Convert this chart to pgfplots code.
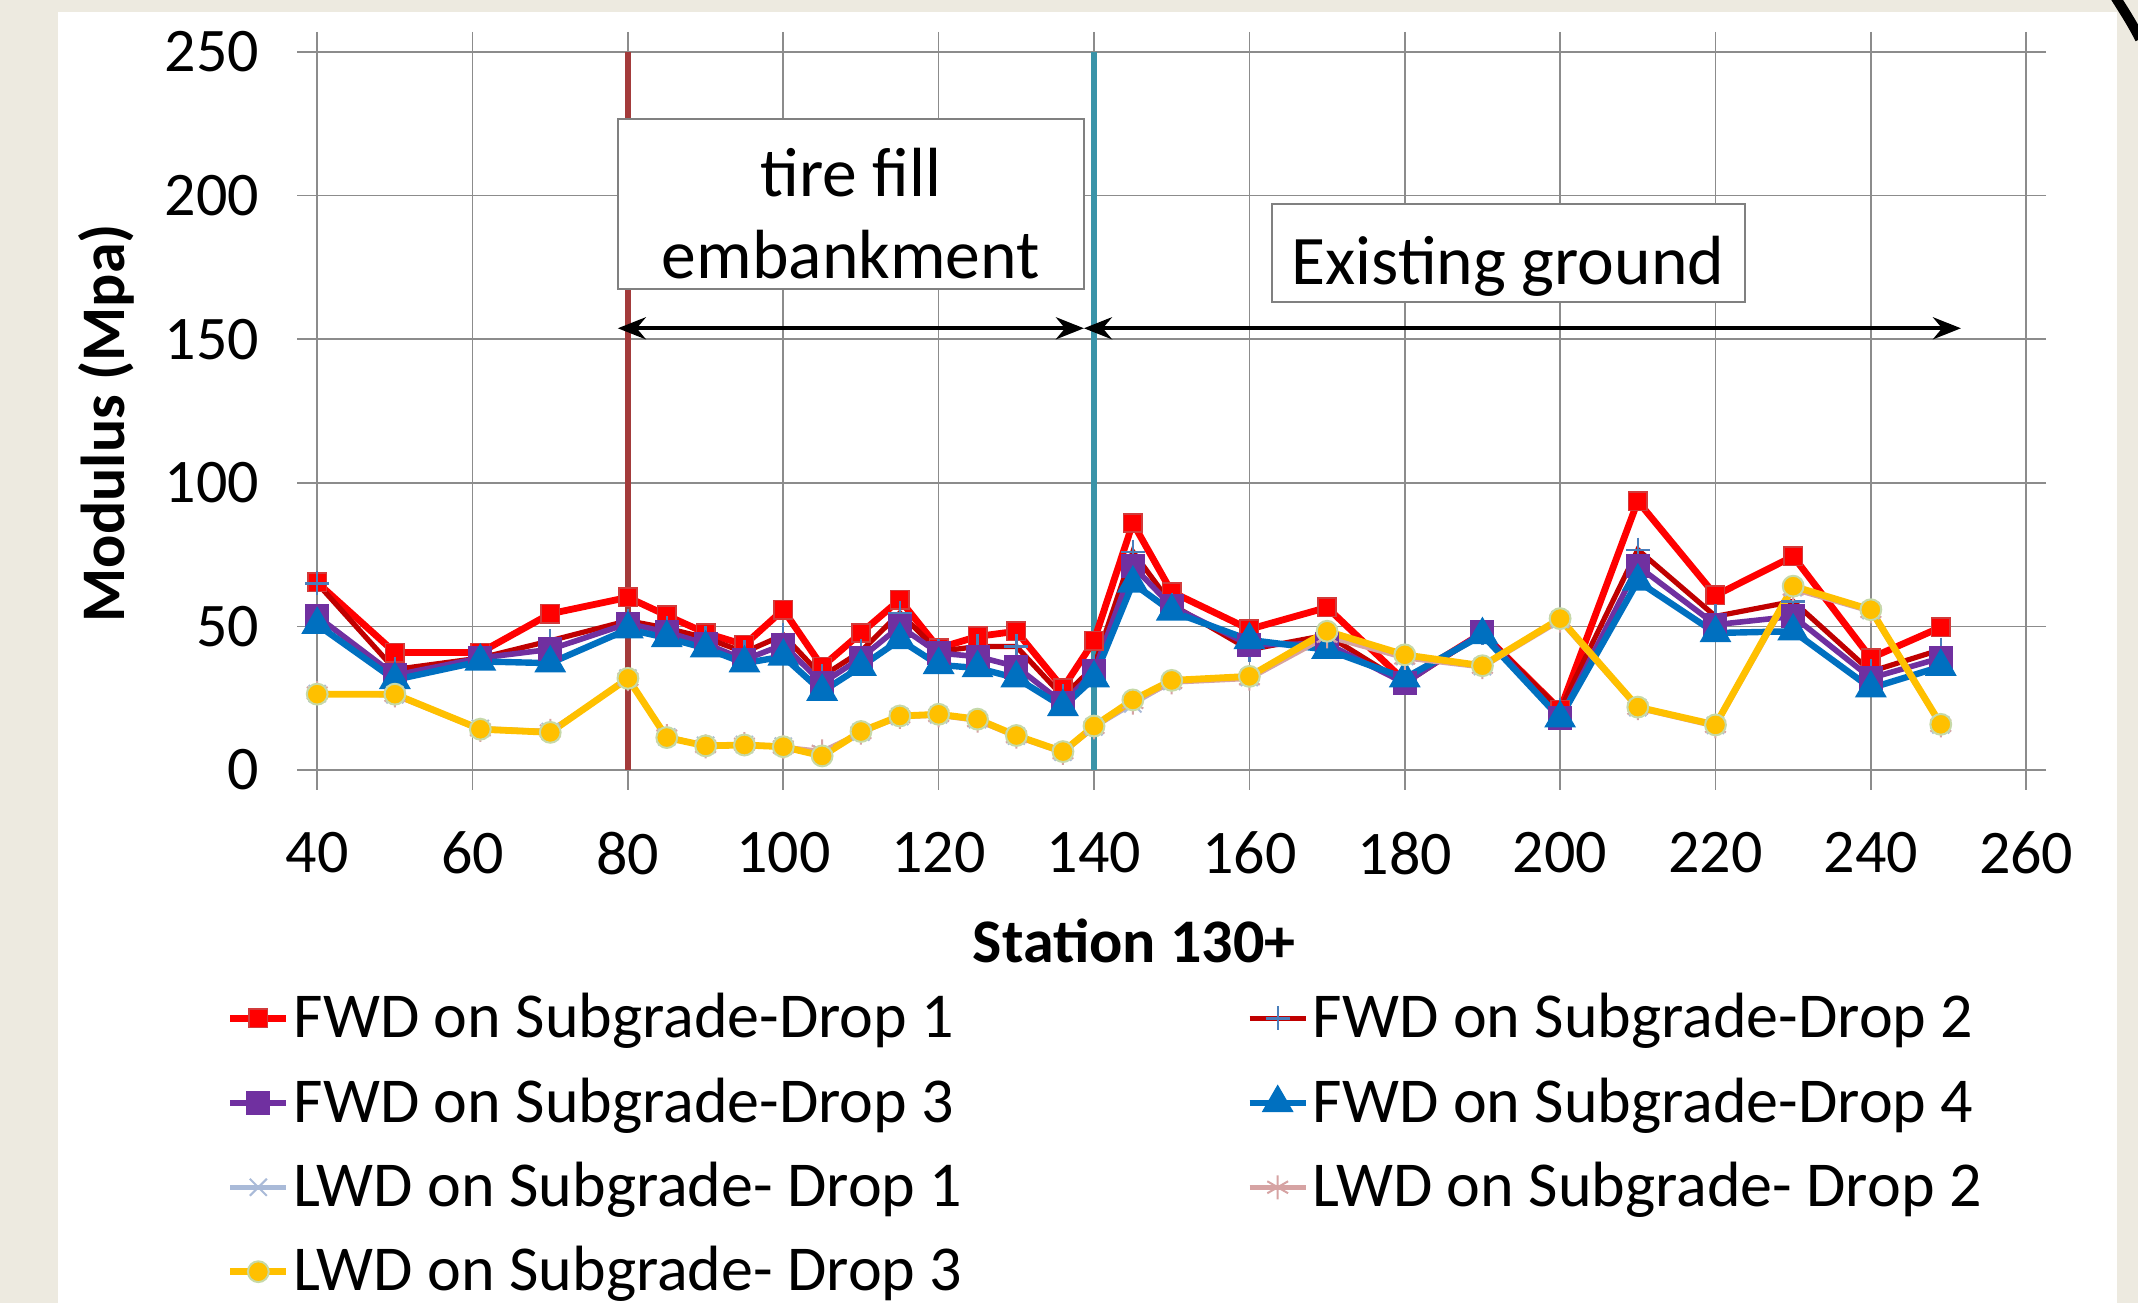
\documentclass[border=0pt]{standalone}
\usepackage{fontspec}
\setmainfont{Carlito}
\usepackage{pgfplots}
\pgfplotsset{compat=1.18}
\usetikzlibrary{arrows.meta}

\definecolor{bgbeige}{HTML}{EDEAE0}
\definecolor{gridgray}{HTML}{8C8C8C}
\definecolor{dropA}{HTML}{FF0000}
\definecolor{dropAedge}{HTML}{D23B3B}
\definecolor{dropB}{HTML}{C00000}
\definecolor{plusblue}{HTML}{4A7EBB}
\definecolor{dropC}{HTML}{7030A0}
\definecolor{dropD}{HTML}{0070C0}
\definecolor{lwdA}{HTML}{A9BAD8}
\definecolor{lwdB}{HTML}{D6A3A3}
\definecolor{lwdC}{HTML}{FFC000}
\definecolor{lwdCedge}{HTML}{C6D9A8}
\definecolor{fillline}{HTML}{A33B3B}
\definecolor{groundline}{HTML}{3A93A8}

\newcommand{\chartfont}{\fontsize{15.5}{18}\selectfont}
\newcommand{\legendfont}{\fontsize{16}{18}\selectfont}
\newcommand{\notefont}{\fontsize{17.4}{20.5}\selectfont}

\begin{document}
\begin{tikzpicture}
\useasboundingbox (0,0) rectangle (534.5pt,325.75pt);
\fill[bgbeige] (0,0) rectangle (534.5pt,325.75pt);
\fill[white] (14.5pt,0) rectangle (529.25pt,322.75pt);
\draw[line width=2.5pt] (528.5pt,327pt) .. controls (531pt,323pt) and (533pt,320pt) .. (535pt,316pt);

\begin{axis}[
    at={(79.3pt,133.25pt)}, anchor=south west,
    scale only axis,
    width=427.25pt, height=179.5pt,
    xmin=40, xmax=260,
    ymin=0, ymax=250,
    xtick={40,60,...,260},
    ytick={0,50,...,250},
    grid=major,
    grid style={gridgray, line width=0.4pt},
    axis line style={gridgray, line width=0.5pt},
    tick style={gridgray, line width=0.4pt},
    tick align=outside,
    major tick length=5pt,
    tick label style={font=\chartfont},
    /pgf/number format/assume math mode=true,
    yticklabel style={xshift=-6pt},
    xticklabel style={yshift=-7pt},
    xlabel={\bfseries Station 130+},
    ylabel={\bfseries Modulus (Mpa)},
    label style={font=\chartfont},
    xlabel style={at={(axis description cs:0.478,-0.238)}, anchor=center},
    ylabel style={at={(axis description cs:-0.1235,0.483)}, anchor=center},
    legend columns=2,
    legend cell align=left,
    legend image code/.code={\draw[mark repeat=2,mark phase=2,#1] plot coordinates {(0pt,0pt)(7pt,0pt)(14pt,0pt)};},
    legend style={
        at={(axis description cs:-0.0603,-0.293)}, anchor=north west,
        draw=none, fill=none, font=\legendfont,
        nodes={inner sep=1pt}, row sep=6.5pt,
        /tikz/every odd column/.style={column sep=0pt},
        /tikz/every even column/.style={column sep=70pt},
    },
]

% section boundaries
\addplot[forget plot, fillline, line width=1.6pt] coordinates {(80,0)(80,250)};
\addplot[forget plot, groundline, line width=1.6pt] coordinates {(140,0)(140,250)};

\addplot[dropA, line width=1.7pt, mark=square*, mark size=2.3pt,
    mark options={fill=dropA, draw=dropAedge, line width=0.4pt}]
coordinates {
(40,65.3)(50,40.9)(61,40.9)(70,54.4)(80,60.1)(85,53.8)(90,47.7)(95,43.6)
(100,55.8)(105,36)(110,47.7)(115,59.3)(120,42.4)(125,46.5)(130,48.3)(136,28.5)
(140,45)(145,86)(150,62)(160,49)(170,56.6)(180,31)(190,47.7)(200,21)
(210,93.6)(220,60.8)(230,74.4)(240,39)(249,49.7)
};
\addlegendentry{FWD on Subgrade-Drop 1}

\addplot[dropB, line width=1.3pt, mark=+, mark size=3pt,
    mark options={draw=plusblue, line width=0.6pt}]
coordinates {
(40,65)(50,35)(61,39)(70,45)(80,52)(85,49.4)(90,46)(95,41)
(100,47)(105,32.6)(110,41.3)(115,54.7)(120,41.3)(125,43)(130,43)(136,25.6)
(140,36)(145,76)(150,57.6)(160,41.9)(170,47)(180,30.2)(190,47.7)(200,21)
(210,76.7)(220,53.5)(230,58.7)(240,34.3)(249,41.9)
};
\addlegendentry{FWD on Subgrade-Drop 2}

\addplot[dropC, line width=1.4pt, mark=square*, mark size=2.3pt,
    mark options={fill=dropC, draw=dropC}]
coordinates {
(40,53.5)(50,33)(61,39)(70,42)(80,51)(85,48)(90,44)(95,38.4)
(100,43.6)(105,30.2)(110,39)(115,50)(120,40.7)(125,39.5)(130,36)(136,23.3)
(140,34.3)(145,71)(150,57)(160,43.6)(170,44)(180,30.2)(190,48)(200,18)
(210,71)(220,50.6)(230,53.5)(240,32)(249,39)
};
\addlegendentry{FWD on Subgrade-Drop 3}

\addplot[dropD, line width=1.6pt, mark=triangle*, mark size=3pt,
    mark options={fill=dropD, draw=dropD}]
coordinates {
(40,50.6)(50,31.4)(61,37.8)(70,37.2)(80,49)(85,46)(90,42.4)(95,37.2)
(100,39.5)(105,27.3)(110,36)(115,45.3)(120,36.6)(125,35.5)(130,32)(136,22)
(140,32)(145,65)(150,55.2)(160,45.3)(170,41.9)(180,32)(190,47)(200,18)
(210,65.7)(220,47.7)(230,48.3)(240,28.5)(249,36)
};
\addlegendentry{FWD on Subgrade-Drop 4}

\addplot[lwdA, line width=1.2pt, mark=x, mark size=3pt,
    mark options={draw=lwdA, line width=0.5pt}]
coordinates {
(40,26.6)(50,26.2)(61,14.5)(70,13.4)(80,32)(85,11.5)(90,8.6)(95,8.9)
(100,8.3)(105,5.5)(110,13.2)(115,18.6)(120,19.2)(125,17.5)(130,11.8)(136,6.2)
(140,15)(145,23)(150,30.8)(160,32.2)(170,47.5)(180,39.5)(190,36)(200,52.4)
(210,21.7)(220,15.5)(230,63.5)(240,55.5)(249,15.7)
};
\addlegendentry{LWD on Subgrade- Drop 1}

\addplot[lwdB, line width=1.2pt, mark=asterisk, mark size=3pt,
    mark options={draw=lwdB, line width=0.5pt}]
coordinates {
(40,26.8)(50,26)(61,14)(70,13.6)(80,31.6)(85,11.8)(90,8.2)(95,9)
(100,8)(105,6.5)(110,13)(115,18.5)(120,19)(125,17.2)(130,11.6)(136,6)
(140,14.8)(145,23.5)(150,30.5)(160,31.8)(170,46.5)(180,39)(190,35.8)(200,52)
(210,21.5)(220,15.2)(230,63)(240,55.2)(249,15.5)
};
\addlegendentry{LWD on Subgrade- Drop 2}

\addplot[lwdC, line width=1.7pt, mark=*, mark size=2.6pt,
    mark options={fill=lwdC, draw=lwdCedge, line width=0.5pt}]
coordinates {
(40,26.4)(50,26.4)(61,14.2)(70,13.1)(80,31.9)(85,11.3)(90,8.4)(95,8.7)
(100,8.1)(105,4.9)(110,13.4)(115,18.8)(120,19.4)(125,17.7)(130,12)(136,6.4)
(140,15.3)(145,24.4)(150,31.2)(160,32.6)(170,48.3)(180,40.1)(190,36.3)(200,52.7)
(210,21.9)(220,15.7)(230,64)(240,55.8)(249,15.9)
};
\addlegendentry{LWD on Subgrade- Drop 3}

% section labels
\draw[gray, fill=white, line width=0.5pt] (axis cs:78.7,167.6) rectangle (axis cs:138.7,226.5);
\node[font=\notefont, align=center] at (axis cs:108.7,193.6) {tire fill\\embankment};
\draw[gray, fill=white, line width=0.5pt] (axis cs:162.9,163) rectangle (axis cs:223.8,197.2);
\node[font=\notefont] at (axis cs:193.3,175.5) {Existing ground};
\draw[{Stealth[length=7pt,width=5.5pt]}-{Stealth[length=7pt,width=5.5pt]}, line width=1pt]
    (axis cs:78.7,153.8) -- (axis cs:138.7,153.8);
\draw[{Stealth[length=7pt,width=5.5pt]}-{Stealth[length=7pt,width=5.5pt]}, line width=1pt]
    (axis cs:138.7,153.8) -- (axis cs:251.6,153.8);
\end{axis}
\end{tikzpicture}
\end{document}
